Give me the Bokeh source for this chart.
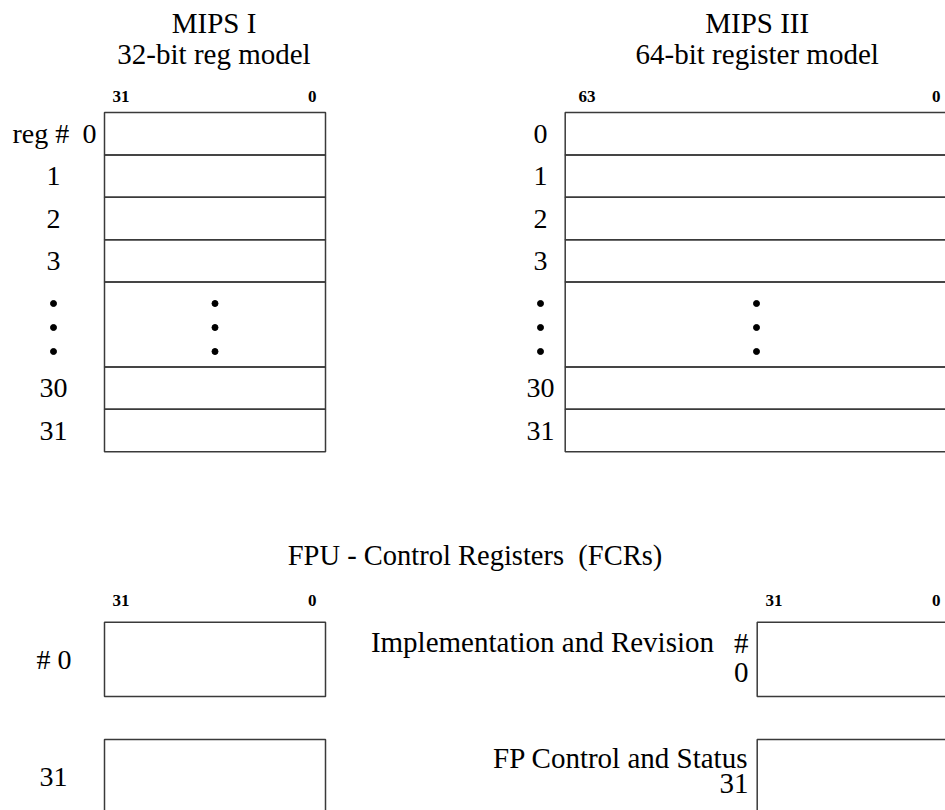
from bokeh.plotting import figure
from bokeh.models import Range1d, ColumnDataSource
from bokeh.core.properties import value
from bokeh.embed import file_html
from bokeh.resources import INLINE

# ---------------- data ----------------
model_titles = ["MIPS I", "MIPS III"]
model_subtitles = ["32-bit reg model", "64-bit register model"]
model_msb = ["31", "63"]
model_lsb = ["0", "0"]
reg_labels = ["0", "1", "2", "3", "...", "30", "31"]
fcr_title = "FPU - Control Registers\u00a0\u00a0(FCRs)"
fcr_numbers = ["0", "31"]
fcr_names = ["Implementation and Revision", "FP Control and Status"]
fcr_msb = "31"
fcr_lsb = "0"

# ---------------- layout (pixel coordinates) ----------------
FONT = "Liberation Serif"
LINE = "#3a3a3a"
W, H = 945, 810
p = figure(width=W, height=H, x_range=Range1d(0, W), y_range=Range1d(H, 0),
           x_axis_type=None, y_axis_type=None, output_backend="svg",
           toolbar_location=None, min_border=0)
p.grid.visible = False
p.outline_line_color = None
p.background_fill_color = "white"
p.border_fill_color = "white"


def texts(xs, ys, ts, size, align="center", bold=False, baseline="middle"):
    src = ColumnDataSource(dict(x=xs, y=ys, t=ts))
    p.text(x="x", y="y", text="t", source=src, text_font=value(FONT),
           text_font_size=size, text_align=align, text_baseline=baseline,
           text_color="#000000", text_font_style="bold" if bold else "normal")


# GPR register models
box_left = [104, 564.7]
box_right = [325, 949]
title_x = [213.5, 756.7]
label_x = [53, 540]
msb_x = [112, 578]
lsb_x = [316, 940]
top = 112.0
unit = 42.4

for m in range(len(model_titles)):
    texts([title_x[m], title_x[m]], [22.5, 53], [model_titles[m], model_subtitles[m]], "29px")
    texts([msb_x[m]], [96], [model_msb[m]], "17px", "left", True)
    texts([lsb_x[m]], [96], [model_lsb[m]], "17px", "right", True)
    y = top
    lefts, rights, tops, bottoms = [], [], [], []
    lx, ly, lt = [], [], []
    dots_x, dots_y = [], []
    for lab in reg_labels:
        span = 2 if lab == "..." else 1
        y2 = y + span * unit
        lefts.append(box_left[m]); rights.append(box_right[m]); tops.append(y); bottoms.append(y2)
        c = (y + y2) / 2
        if lab == "...":
            for k in (-1, 0, 1):
                dots_x += [label_x[m], (box_left[m] + box_right[m]) / 2 if m == 0 else 756]
                dots_y += [c + 3 + 24 * k, c + 3 + 24 * k]
        else:
            if m == 0 and lab == "0":
                lx.append(89); ly.append(c); lt.append(lab)
                texts([12], [c], ["reg #"], "28px", "left")
            else:
                lx.append(label_x[m]); ly.append(c); lt.append(lab)
        y = y2
    p.quad(left=lefts, right=rights, top=tops, bottom=bottoms, fill_color=None,
           line_color=LINE, line_width=1.5)
    p.scatter(dots_x, dots_y, size=6, color="black")
    texts(lx, ly, lt, "28px")

# FCRs
texts([474.5], [555], [fcr_title], "28.5px")
fcr_left = [104, 756.7]
fcr_right = [325, 949]
fcr_tops = [621.7, 739]
fcr_msb_x = [112, 765]
fcr_h = 74.3
for side in range(2):
    texts([fcr_msb_x[side]], [600], [fcr_msb], "17px", "left", True)
    texts([316 if side == 0 else 940], [600], [fcr_lsb], "17px", "right", True)
    p.quad(left=[fcr_left[side]] * 2, right=[fcr_right[side]] * 2,
           top=fcr_tops, bottom=[t + fcr_h for t in fcr_tops],
           fill_color=None, line_color=LINE, line_width=1.5)

# left-hand numbers
texts([53.5], [fcr_tops[0] + fcr_h / 2], ["# " + fcr_numbers[0]], "28px")
texts([53], [fcr_tops[1] + 37], [fcr_numbers[1]], "28px")
# right-hand names
texts([713.5, 748], [641, 642], [fcr_names[0], "#"], "29px", "right")
texts([748], [672], [fcr_numbers[0]], "29px", "right")
texts([748, 748], [757, 783], [fcr_names[1], fcr_numbers[1]], "29px", "right")

open("out.html", "w").write(file_html(p, INLINE))
